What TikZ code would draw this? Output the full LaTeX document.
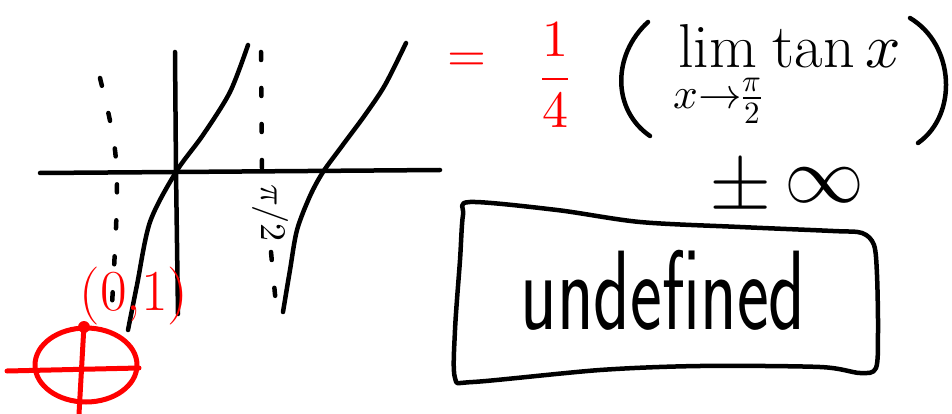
\documentclass[tikz,border=0pt]{standalone}
\usepackage{unicode-math}
\usetikzlibrary{calc}

\begin{document}
\begin{tikzpicture}[x=1pt, y=-1pt, line cap=round, line join=round]
    % Define colours and styles
    \definecolor{inkColour}{HTML}{000000}
    \definecolor{penColour}{HTML}{FF0000}
    \tikzset{
        ink/.style={draw=inkColour, line width=4.5pt},
        pen/.style={draw=penColour, line width=5pt},
        asym/.style={ink, dash pattern=on 8pt off 28pt},
    }
    \useasboundingbox (0,0) rectangle (952,414);

    % Draw axes
    \coordinate (O) at (176,172);
    \draw[ink] (40,173) -- (O) -- (440,170);
    \draw[ink] (175,52) -- (O) -- (178,314);

    % Draw asymptotes
    \draw[asym] (100,78) .. controls (120,160) .. (112,305);
    \draw[asym] (261,52) -- (262,172);
    \draw[asym] (271,252) -- (276,305);
    \node[rotate=-90, font=\fontsize{36}{36}\selectfont] (halfpi) at (270,213) {$\pi/2$};

    % Draw the tan branches
    \draw[ink] plot[smooth] coordinates {(128,330) (137,285) (150,222) (O) (203,135) (230,92) (248,45)};
    \draw[ink] plot[smooth] coordinates {(283,312) (290,270) (297,230) (310,196) (323,172) (342,146) (365,115) (385,85) (406,43)};

    % Point (0,1) and the unit circle
    \node[text=penColour, font=\fontsize{58}{58}\selectfont, anchor=base] (point) at (134,310) {(0,1)};
    \draw[pen] (86,365) ellipse [x radius=51, y radius=37];
    \draw[pen] (7,371) -- (139,368);
    \draw[pen] (84,325) -- (79,414);
    \fill[penColour] (84,327) circle [radius=6];

    % The limit
    \node[text=penColour, font=\fontsize{50}{50}\selectfont] (eq) at (467,62) {$=$};
    \node[text=penColour, font=\fontsize{52}{52}\selectfont] (quarter) at (555,75) {$\displaystyle\frac{1}{4}$};
    \draw[ink] (648,22) .. controls (612,55) and (612,110) .. (650,136);
    \draw[ink] (910,18) .. controls (955,45) and (958,115) .. (918,143);
    \node[font=\fontsize{62}{70}\selectfont] (lim) at (787,78) {$\displaystyle\lim_{x\to\frac{\pi}{2}}\tan x$};
    \node[font=\fontsize{80}{80}\selectfont] (inf) at (787,183) {$\pm\,\infty$};

    % Boxed answer
    \draw[ink] plot[smooth cycle] coordinates {(470,202) (557,210) (640,222) (740,227) (833,231) (862,233) (874,245) (877,275) (878,330) (876,368) (860,373) (820,367) (700,366) (600,370) (473,382) (455,378) (455,330) (460,260) (463,215)};
    \node[font=\sffamily\fontsize{113}{113}\selectfont, xscale=0.67] (undef) at (663,290) {undefined};

\end{tikzpicture}
\end{document}
